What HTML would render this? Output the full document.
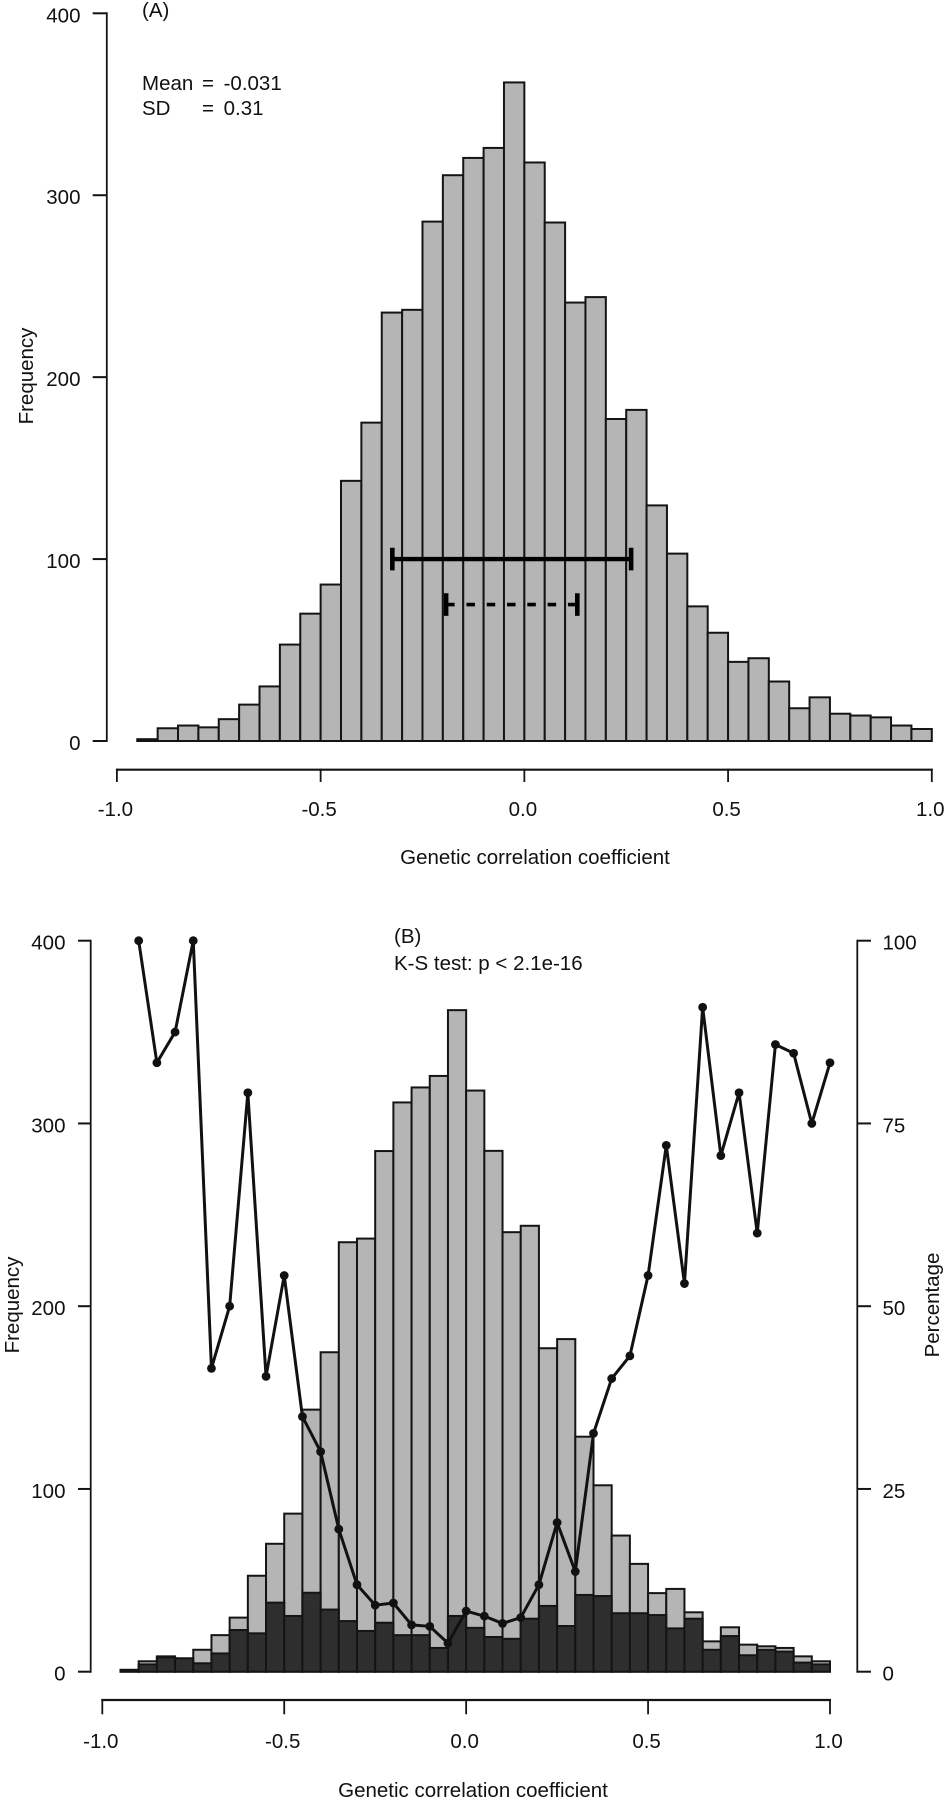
<!DOCTYPE html>
<html lang="en">
<head>
<meta charset="utf-8">
<title>Genetic correlation coefficient histograms</title>
<style>
html,body{margin:0;padding:0;background:#fff;width:946px;height:1800px;overflow:hidden}
svg{display:block}
text{font-family:"Liberation Sans",Arial,sans-serif;font-size:20.5px;fill:#111}
</style>
</head>
<body>
<svg id="chart" xmlns="http://www.w3.org/2000/svg" width="946" height="1800" viewBox="0 0 946 1800">
  <g id="panelA"></g>
  <g id="panelB"></g>
  <text x="142" y="17">(A)</text>
  <text x="142" y="90">Mean</text>
  <text x="202" y="90">=</text>
  <text x="223.6" y="90">-0.031</text>
  <text x="142" y="115">SD</text>
  <text x="202" y="115">=</text>
  <text x="223.6" y="115">0.31</text>
  <text x="535" y="864" text-anchor="middle">Genetic correlation coefficient</text>
  <text transform="translate(33,376) rotate(-90)" text-anchor="middle">Frequency</text>
  <text x="394" y="943">(B)</text>
  <text x="394" y="970">K-S test: p &lt; 2.1e-16</text>
  <text x="473" y="1797" text-anchor="middle">Genetic correlation coefficient</text>
  <text transform="translate(19,1305) rotate(-90)" text-anchor="middle">Frequency</text>
  <text transform="translate(939,1305) rotate(-90)" text-anchor="middle">Percentage</text>
</svg>
<script>
// Shared axis labels
const xTicks = [-1, -0.5, 0, 0.5, 1];
const xTickLabels = ["-1.0", "-0.5", "0.0", "0.5", "1.0"];
const freqTicks = [0, 100, 200, 300, 400];
const pctTicks = [0, 25, 50, 75, 100];

// Left edge of each histogram bin
const binStart = [-0.95,-0.90,-0.85,-0.80,-0.75,-0.70,-0.65,-0.60,-0.55,-0.50,-0.45,-0.40,-0.35,-0.30,-0.25,-0.20,-0.15,-0.10,-0.05,0.00,0.05,0.10,0.15,0.20,0.25,0.30,0.35,0.40,0.45,0.50,0.55,0.60,0.65,0.70,0.75,0.80,0.85,0.90,0.95];
const binWidth = 0.05;

// Panel A counts
const countsA = [1,7,8.5,7.5,12,20,30,53,70,86,143,175,235.5,237,285.5,311,320.5,326,362,318,285,241,244,177,182,129.5,103,74,59.5,43.5,45.5,32.7,18,24,15,14,13,8.5,6.6];

// Panel A interval bars
const solidInterval = [-0.324, 0.262];
const solidIntervalLevel = 100;
const dashedInterval = [-0.192, 0.130];
const dashedIntervalLevel = 75;

// Panel B counts
const countsAll = [1,5.7,8.4,7.3,12,20,29.6,52.5,70,86.5,143.4,174.8,235,237,284.9,311.5,319.7,326,362,318,285,240.5,244,177,182,128.6,102,74.5,59,43,45.3,32.5,16.6,24.3,14.8,13.9,13,8.4,5.7];
const countsSubset = [1,4,7.8,7.3,4.6,10,22.8,21,37.8,30.5,43.2,34,27.7,22.3,26.8,20,20,13,30.5,24,19,18,29,36,25,42,41.4,32,32,31,23.7,29,12,19.5,9,12,11,5,4];

// Panel B percentage line
const pctX = [-0.90,-0.85,-0.80,-0.75,-0.70,-0.65,-0.60,-0.55,-0.50,-0.45,-0.40,-0.35,-0.30,-0.25,-0.20,-0.15,-0.10,-0.05,0.00,0.05,0.10,0.15,0.20,0.25,0.30,0.35,0.40,0.45,0.50,0.55,0.60,0.65,0.70,0.75,0.80,0.85,0.90,0.95,1.00];
const pctValues = [100,83.3,87.5,100,41.5,50,79.2,40.4,54.2,34.9,30.1,19.5,11.9,9.1,9.4,6.4,6.2,3.9,8.3,7.6,6.6,7.4,11.9,20.4,13.7,32.6,40.1,43.2,54.2,72,53.1,90.9,70.6,79.2,60,85.8,84.6,75,83.3];

const NS = "http://www.w3.org/2000/svg";
function make(parent, tag, attrs, content) {
  const el = document.createElementNS(NS, tag);
  for (const k in attrs) el.setAttribute(k, attrs[k]);
  if (content !== undefined) el.textContent = content;
  parent.appendChild(el);
  return el;
}
function linear(d0, d1, r0, r1) {
  return v => r0 + (v - d0) * (r1 - r0) / (d1 - d0);
}
const INK = "#141414";
const GREY = "#b5b5b5";
const DARK = "#2e2e2e";

function drawBars(parent, counts, x, y, fill, name) {
  counts.forEach((c, i) => {
    const x0 = x(binStart[i]);
    const x1 = x(binStart[i] + binWidth);
    const r = make(parent, "rect", {x: x0, y: y(c), width: x1 - x0, height: y(0) - y(c), fill: fill, stroke: INK, "stroke-width": 2});
    
    
  });
}

function drawXAxis(parent, x, axisY, tickEnd, labelY, name) {
  const g = make(parent, "g", {});
  
  
  make(g, "line", {x1: x(xTicks[0]) - 1, x2: x(xTicks[xTicks.length - 1]) + 1, y1: axisY, y2: axisY, stroke: INK, "stroke-width": 2.2});
  xTicks.forEach((t, i) => {
    make(g, "line", {x1: x(t), x2: x(t), y1: axisY - 1, y2: tickEnd, stroke: INK, "stroke-width": 1.8});
    const label = make(g, "text", {x: x(t) - 1.5, y: labelY, "text-anchor": "middle"}, xTickLabels[i]);
    
    
  });
}

function drawYAxis(parent, y, ticks, axisX, tickX, labelX, anchor, name) {
  const g = make(parent, "g", {});
  
  
  make(g, "line", {x1: axisX, x2: axisX, y1: y(ticks[0]) + 1, y2: y(ticks[ticks.length - 1]) - 1, stroke: INK, "stroke-width": 1.8});
  ticks.forEach(t => {
    make(g, "line", {x1: axisX, x2: tickX, y1: y(t), y2: y(t), stroke: INK, "stroke-width": 2});
    const label = make(g, "text", {x: labelX, y: y(t) + 9, "text-anchor": anchor}, String(t));
    
    
  });
}

// Panel A
const panelA = document.getElementById("panelA");
const xA = linear(-1, 1, 116.9, 931.8);
const yA = linear(0, 400, 741, 13.3);
drawBars(panelA, countsA, xA, yA, GREY, "frequency-bar");
drawXAxis(panelA, xA, 769.7, 782, 816, "panel-a-x-axis");
drawYAxis(panelA, yA, freqTicks, 106.8, 92.7, 80.5, "end", "panel-a-y-axis");

function drawInterval(parent, interval, level, dashed, name) {
  const g = make(parent, "g", {stroke: "#000"});
  
  
  const attrs = {x1: xA(interval[0]), x2: xA(interval[1]), y1: yA(level), y2: yA(level), "stroke-width": dashed ? 3.6 : 4.3};
  if (dashed) attrs["stroke-dasharray"] = "8.5 11.8";
  make(g, "line", attrs);
  interval.forEach(v => {
    make(g, "line", {x1: xA(v), x2: xA(v), y1: yA(level) - 11.3, y2: yA(level) + 11.3, "stroke-width": 4.6});
  });
}
drawInterval(panelA, solidInterval, solidIntervalLevel, false, "solid-interval-bar");
drawInterval(panelA, dashedInterval, dashedIntervalLevel, true, "dashed-interval-bar");

// Panel B
const panelB = document.getElementById("panelB");
const xB = linear(-1, 1, 102.3, 830);
const yB = linear(0, 400, 1671.7, 940.7);
const yPct = linear(0, 100, 1671.7, 940.7);
drawBars(panelB, countsAll, xB, yB, GREY, "all-pairs-bar");
drawBars(panelB, countsSubset, xB, yB, DARK, "subset-bar");
drawXAxis(panelB, xB, 1700, 1714.3, 1748, "panel-b-x-axis");
drawYAxis(panelB, yB, freqTicks, 90.7, 78, 65.5, "end", "panel-b-left-axis");
drawYAxis(panelB, yPct, pctTicks, 857.3, 871, 882.5, "start", "panel-b-right-axis");

const pctLine = make(panelB, "polyline", {
  points: pctValues.map((v, i) => xB(pctX[i]) + "," + yPct(v)).join(" "),
  fill: "none", stroke: "#111", "stroke-width": 3, "stroke-linejoin": "round"
});


pctValues.forEach((v, i) => {
  const dot = make(panelB, "circle", {cx: xB(pctX[i]), cy: yPct(v), r: 4.4, fill: "#111"});
  
  
});
</script>
</body>
</html>
